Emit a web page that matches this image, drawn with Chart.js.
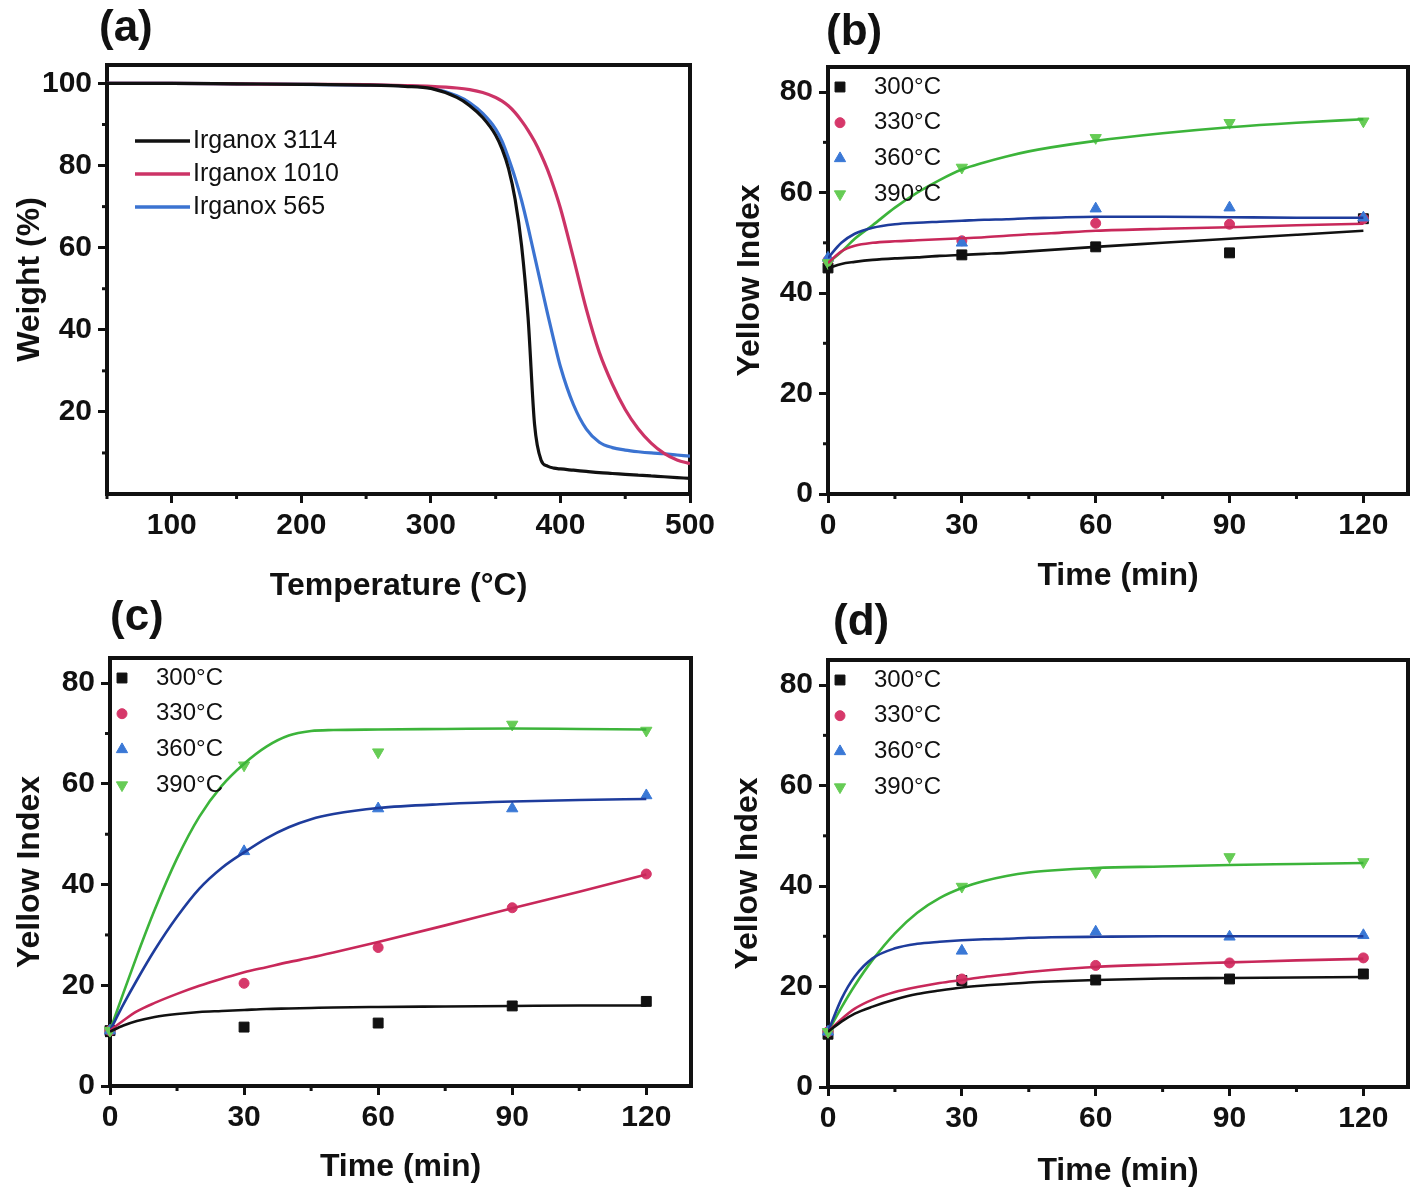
<!DOCTYPE html>
<html>
<head>
<meta charset="utf-8">
<script src="https://cdn.jsdelivr.net/npm/chart.js@4.4.1/dist/chart.umd.min.js"></script>
<style>
  body { margin: 0; background: #fff; }
  #wrap { position: relative; width: 1418px; height: 1195px; }
  canvas { position: absolute; }
</style>
</head>
<body>
<div id="wrap">
  <canvas id="chartA" width="735" height="607" style="left:0px;top:0px"></canvas>
  <canvas id="chartB" width="698" height="600" style="left:720px;top:0px"></canvas>
  <canvas id="chartC" width="720" height="595" style="left:0px;top:600px"></canvas>
  <canvas id="chartD" width="698" height="595" style="left:720px;top:600px"></canvas>
</div>
<script>
// ---- (a) TGA curves, weight (%) vs temperature ----
const tgaTemp = [50, 100, 150, 200, 250, 280, 300, 320, 330, 340, 350, 355, 360, 365, 370, 375, 380, 385, 390, 395, 400, 410, 420, 430, 440, 450, 460, 470, 480, 490, 500];
const irganox3114 = [100, 100, 99.9, 99.8, 99.6, 99.3, 98.8, 96.6, 94.6, 91.7, 87.4, 84.0, 79.2, 71.8, 60.5, 43, 17, 8.3, 6.8, 6.3, 6.1, 5.8, 5.5, 5.2, 5.0, 4.8, 4.6, 4.4, 4.2, 4.0, 3.8];
const irganox1010 = [100, 100, 99.9, 99.8, 99.7, 99.5, 99.3, 98.9, 98.5, 97.8, 96.6, 95.7, 94.5, 92.9, 90.9, 88.6, 85.9, 82.7, 79.0, 74.6, 69.6, 57.5, 45.0, 34.5, 26.8, 20.6, 15.9, 12.4, 9.9, 8.3, 7.4];
const irganox565 = [100, 100, 99.9, 99.8, 99.6, 99.4, 98.9, 97.0, 95.3, 92.7, 88.9, 85.9, 81.7, 77.0, 71.5, 65.0, 58.0, 51.0, 44.0, 37.3, 31.0, 21.8, 15.8, 12.6, 11.3, 10.7, 10.3, 10.0, 9.8, 9.5, 9.2];
const tgaNames = ['Irganox 3114', 'Irganox 1010', 'Irganox 565'];
const tgaXTicks = [100, 200, 300, 400, 500];
const tgaYTicks = [20, 40, 60, 80, 100];

// ---- (b)(c)(d) yellow index vs time ----
const sampleTime = [0, 30, 60, 90, 120];
const fitTime = [0, 3, 6, 10, 15, 20, 25, 30, 35, 40, 45, 50, 60, 75, 90, 105, 120];
const seriesNames = ['300°C', '330°C', '360°C', '390°C'];
const timeTicks = [0, 30, 60, 90, 120];
const yellowTicks = [0, 20, 40, 60, 80];

const b300 = [45.0, 47.6, 49.2, 48.0, 54.8];
const b330 = [46.5, 50.4, 53.9, 53.7, 54.8];
const b360 = [47.0, 50.0, 56.8, 57.0, 55.0];
const b390 = [46.0, 65.0, 70.9, 73.9, 74.2];
const bFit300 = [44.9, 45.8, 46.2, 46.6, 46.9, 47.1, 47.4, 47.6, 47.8, 48.0, 48.3, 48.6, 49.2, 50.0, 50.8, 51.6, 52.4];
const bFit330 = [46.0, 48.3, 49.4, 50.0, 50.3, 50.5, 50.7, 50.9, 51.1, 51.4, 51.7, 51.9, 52.4, 52.8, 53.1, 53.5, 53.8];
const bFit360 = [47.0, 50.0, 51.8, 53.0, 53.7, 54.0, 54.2, 54.4, 54.6, 54.7, 54.9, 55.0, 55.2, 55.2, 55.1, 55.0, 55.0];
const bFit390 = [46.0, 48.2, 50.8, 53.5, 57.0, 60.0, 62.5, 64.6, 66.0, 67.2, 68.2, 69.0, 70.3, 71.8, 73.0, 73.9, 74.6];

const c300 = [11.0, 11.7, 12.5, 15.9, 16.8];
const c330 = [11.0, 20.4, 27.5, 35.4, 42.1];
const c360 = [11.0, 46.6, 55.1, 55.1, 57.7];
const c390 = [11.0, 63.7, 66.3, 71.8, 70.6];
const cFit300 = [10.8, 12.0, 12.9, 13.7, 14.3, 14.7, 14.9, 15.1, 15.3, 15.4, 15.5, 15.6, 15.7, 15.8, 15.9, 16.0, 16.0];
const cFit330 = [11.0, 13.0, 14.8, 16.5, 18.3, 19.9, 21.3, 22.6, 23.6, 24.6, 25.5, 26.5, 28.6, 31.9, 35.3, 38.6, 42.0];
const cFit360 = [11.0, 16.2, 21.0, 27.0, 33.6, 39.2, 43.3, 46.4, 49.2, 51.4, 53.0, 54.0, 55.2, 56.0, 56.5, 56.8, 57.0];
const cFit390 = [11.0, 18.5, 25.8, 35.0, 45.2, 53.5, 59.6, 64.0, 67.4, 69.6, 70.5, 70.7, 70.8, 70.9, 71.0, 70.9, 70.8];

const d300 = [10.5, 21.2, 21.3, 21.5, 22.5];
const d330 = [11.0, 21.5, 24.2, 24.7, 25.7];
const d360 = [11.0, 27.1, 30.9, 29.9, 30.2];
const d390 = [11.0, 39.9, 42.8, 45.8, 44.8];
const dFit300 = [11.0, 13.0, 14.6, 16.0, 17.4, 18.5, 19.2, 19.8, 20.2, 20.5, 20.8, 21.0, 21.3, 21.6, 21.7, 21.8, 21.9];
const dFit330 = [11.0, 13.5, 15.6, 17.4, 18.9, 19.9, 20.7, 21.3, 21.9, 22.4, 22.9, 23.3, 23.9, 24.4, 24.8, 25.2, 25.5];
const dFit360 = [11.0, 17.5, 22.0, 25.6, 27.6, 28.5, 28.9, 29.2, 29.4, 29.5, 29.7, 29.8, 29.9, 30.0, 30.0, 30.0, 30.0];
const dFit390 = [11.0, 15.8, 20.2, 25.3, 30.6, 34.7, 37.6, 39.6, 41.0, 42.0, 42.7, 43.1, 43.6, 43.9, 44.2, 44.4, 44.6];

const family = "'Liberation Sans', Arial, Helvetica, sans-serif";
Chart.defaults.font.family = family;
Chart.defaults.color = '#111';
Chart.defaults.animation = false;

const tgaColors = ['#111111', '#cc3366', '#3b73d1'];
const markColors = ['#111111', '#d6386a', '#3a78d6', '#66cc55'];
const fitColors = ['#111111', '#c8285a', '#1e3c9c', '#3cb43a'];
const markStyles = [
  { pointStyle: 'rect', radius: 7, rotation: 0 },
  { pointStyle: 'circle', radius: 5, rotation: 0 },
  { pointStyle: 'triangle', radius: 6.5, rotation: 0 },
  { pointStyle: 'triangle', radius: 6.5, rotation: 180 }
];

function xy(xs, ys) {
  return xs.map((x, i) => ({ x: x, y: ys[i] }));
}

// frame, minor ticks, panel letter and in-plot legend
const panelPlugin = {
  id: 'panel',
  beforeDatasetsDraw(chart, args, o) {
    const { ctx, chartArea: a, scales } = chart;
    ctx.save();
    ctx.strokeStyle = '#111';
    ctx.lineWidth = 3;
    o.xMinor.forEach(v => {
      const p = scales.x.getPixelForValue(v);
      ctx.beginPath(); ctx.moveTo(p, a.bottom); ctx.lineTo(p, a.bottom + 5); ctx.stroke();
    });
    o.yMinor.forEach(v => {
      const p = scales.y.getPixelForValue(v);
      ctx.beginPath(); ctx.moveTo(a.left, p); ctx.lineTo(a.left - 5, p); ctx.stroke();
    });
    ctx.lineWidth = 4;
    ctx.strokeRect(a.left, a.top, a.right - a.left, a.bottom - a.top);
    ctx.restore();
  },
  afterDraw(chart, args, o) {
    const { ctx, chartArea: a } = chart;
    ctx.save();
    ctx.fillStyle = '#111';
    ctx.textBaseline = 'middle';
    ctx.textAlign = 'left';
    ctx.font = 'bold 44px ' + family;
    ctx.fillText(o.tag, a.left + o.tagX, a.top + o.tagY);

    ctx.font = o.legendFont + ' ' + family;
    let y = a.top + o.legendY;
    chart.data.datasets.filter(d => d.inLegend).forEach(d => {
      if (o.legendLines) {
        ctx.strokeStyle = d.borderColor;
        ctx.lineWidth = 3.5;
        ctx.beginPath();
        ctx.moveTo(a.left + o.markX, y);
        ctx.lineTo(a.left + o.markX + 55, y);
        ctx.stroke();
      } else {
        ctx.fillStyle = d.backgroundColor;
        ctx.strokeStyle = d.borderColor;
        Chart.helpers.drawPoint(ctx, {
          pointStyle: d.pointStyle, radius: d.pointRadius, rotation: d.pointRotation, borderWidth: 1
        }, a.left + o.markX, y);
      }
      ctx.fillStyle = '#111';
      ctx.fillText(d.label, a.left + o.textX, y);
      y += o.legendGap;
    });
    ctx.restore();
  }
};

function scale(axis, min, max, ticks, title, size, titlePad) {
  return {
    type: 'linear',
    position: axis === 'y' ? 'left' : 'bottom',
    min: min,
    max: max,
    afterBuildTicks: s => { s.ticks = ticks.map(v => ({ value: v })); },
    afterFit: s => { if (axis === 'y') s.width = size; else s.height = size; },
    grid: { drawOnChartArea: false, drawTicks: true, tickLength: 9, tickWidth: 3, tickColor: '#111' },
    border: { display: false },
    ticks: {
      color: '#111', padding: axis === 'y' ? 6 : 5, autoSkip: false, maxRotation: 0, minRotation: 0,
      font: { size: 30, weight: 'bold' }
    },
    title: {
      display: true, text: title, color: '#111',
      font: { size: 32, weight: 'bold' },
      padding: axis === 'y' ? { top: titlePad, bottom: 0 } : { top: 0, bottom: titlePad }
    }
  };
}

function yellowDatasets(points, fits) {
  // markers under the fitted curves, lower temperatures underneath
  const sets = points.map((ys, i) => ({
    label: seriesNames[i],
    data: xy(sampleTime, ys),
    showLine: false,
    pointStyle: markStyles[i].pointStyle,
    pointRadius: markStyles[i].radius,
    pointRotation: markStyles[i].rotation,
    pointBorderWidth: 1,
    backgroundColor: markColors[i],
    borderColor: markColors[i],
    clip: false,
    order: 4 - i,
    inLegend: true
  }));
  fits.forEach((ys, i) => {
    sets.push({
      label: seriesNames[i] + ' fit',
      data: xy(fitTime, ys),
      borderColor: fitColors[i],
      borderWidth: 2.6,
      pointRadius: 0,
      cubicInterpolationMode: 'monotone',
      fill: false,
      order: 0
    });
  });
  return sets;
}

function yellowChart(id, points, fits, lay) {
  return new Chart(document.getElementById(id), {
    type: 'line',
    data: { datasets: yellowDatasets(points, fits) },
    plugins: [panelPlugin],
    options: {
      responsive: false,
      layout: { padding: { top: lay.top, right: lay.right, left: 0, bottom: 0 } },
      scales: {
        x: scale('x', 0, 130, timeTicks, 'Time (min)', lay.xSize, lay.xPad),
        y: scale('y', 0, 85, yellowTicks, 'Yellow Index', lay.ySize, lay.yPad)
      },
      plugins: {
        legend: { display: false },
        tooltip: { enabled: false },
        panel: {
          tag: lay.tag, tagX: lay.tagX, tagY: lay.tagY,
          xMinor: [15, 45, 75, 105], yMinor: [10, 30, 50, 70],
          legendLines: false, legendFont: '24px', markX: 12, textX: 46, legendY: 20, legendGap: 35.7
        }
      }
    }
  });
}

// (a)
new Chart(document.getElementById('chartA'), {
  type: 'line',
  data: {
    datasets: [irganox3114, irganox1010, irganox565].map((ys, i) => ({
      label: tgaNames[i],
      data: xy(tgaTemp, ys),
      borderColor: tgaColors[i],
      backgroundColor: tgaColors[i],
      borderWidth: 3.2,
      pointRadius: 0,
      cubicInterpolationMode: 'monotone',
      fill: false,
      inLegend: true
    }))
  },
  plugins: [panelPlugin],
  options: {
    responsive: false,
    layout: { padding: { top: 65, right: 45, left: 0, bottom: 0 } },
    scales: {
      x: scale('x', 50, 500, tgaXTicks, 'Temperature (°C)', 113, 2),
      y: scale('y', 0, 104.5, tgaYTicks, 'Weight (%)', 107, 11)
    },
    plugins: {
      legend: { display: false },
      tooltip: { enabled: false },
      panel: {
        tag: '(a)', tagX: -8, tagY: -36,
        xMinor: [50, 150, 250, 350, 450], yMinor: [10, 30, 50, 70, 90],
        legendLines: true, legendFont: '25px', markX: 28, textX: 86, legendY: 76, legendGap: 33
      }
    }
  }
});

yellowChart('chartB', [b300, b330, b360, b390], [bFit300, bFit330, bFit360, bFit390],
  { top: 67, right: 10, xSize: 106, ySize: 108, xPad: 5, yPad: 11, tag: '(b)', tagX: -2, tagY: -34 });
yellowChart('chartC', [c300, c330, c360, c390], [cFit300, cFit330, cFit360, cFit390],
  { top: 58, right: 29, xSize: 109, ySize: 110, xPad: 9, yPad: 11, tag: '(c)', tagX: 0, tagY: -40 });
yellowChart('chartD', [d300, d330, d360, d390], [dFit300, dFit330, dFit360, dFit390],
  { top: 60, right: 10, xSize: 108, ySize: 108, xPad: 5, yPad: 9, tag: '(d)', tagX: 5, tagY: -37 });
</script>
</body>
</html>
